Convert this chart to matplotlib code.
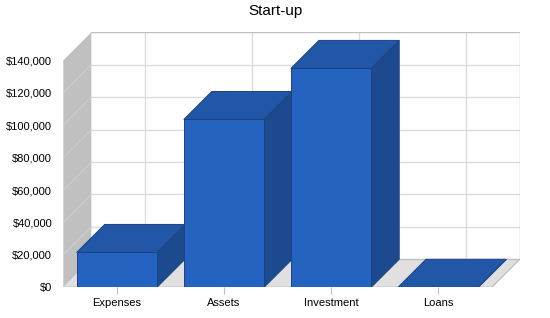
import matplotlib.pyplot as plt
from matplotlib.patches import Polygon
from matplotlib.ticker import FuncFormatter

plt.rcParams['font.family'] = ['Liberation Sans', 'DejaVu Sans']

categories = ['Expenses', 'Assets', 'Investment', 'Loans']
values = [21500, 103500, 135000, 0]
yticks = [0, 20000, 40000, 60000, 80000, 100000, 120000, 140000]

ymax = 140000
# 3d depth offset, in data units (about 28 px each way)
dx = 28 / 107.1
dy = 28 * ymax / 227
bw = 0.75

front = '#2563c0'
top = '#2256a6'
side = '#1d4a8f'
edge = '#1c4283'

fig = plt.figure(figsize=(5.5, 3.18), dpi=100)
ax = fig.add_axes([63.3 / 550, 30.7 / 318, 456.4 / 550, 255 / 318])
ax.set_xlim(-0.5, 3.5 + dx)
ax.set_ylim(0, ymax + dy)
for s in ax.spines.values():
    s.set_visible(False)

x0, x1 = -0.5, len(categories) - 0.5
# side wall
ax.add_patch(Polygon([(x0, 0), (x0 + dx, dy), (x0 + dx, ymax + dy), (x0, ymax)],
                     closed=True, fc='#c0c0c0', ec='none', zorder=1))
# floor
ax.add_patch(Polygon([(x0, 0), (x1, 0), (x1 + dx, dy), (x0 + dx, dy)],
                     closed=True, fc='#e0e0e0', ec='none', zorder=1))
# back wall grid
for v in yticks[1:-1]:
    ax.plot([x0 + dx, x1 + dx], [v + dy, v + dy], color='#dcdcdc', lw=1, zorder=2)
    ax.plot([x0, x0 + dx], [v, v + dy], color='#cdcdcd', lw=0.8, zorder=2)
for i in range(len(categories)):
    ax.plot([i + dx, i + dx], [dy, ymax + dy], color='#dcdcdc', lw=1, zorder=2)
# back wall outline
ax.plot([x0 + dx, x1 + dx, x1 + dx, x0 + dx],
        [ymax + dy, ymax + dy, dy, dy], color='#c0c0c0', lw=1, zorder=2)
ax.plot([x0, x1, x1 + dx], [0, 0, dy], color='#c0c0c0', lw=1, zorder=2)

# bars
for i, v in enumerate(values):
    l, r = i - bw / 2, i + bw / 2
    ax.add_patch(Polygon([(r, 0), (r + dx, dy), (r + dx, v + dy), (r, v)],
                         closed=True, fc=side, ec=edge, lw=0.7, zorder=3 + i))
    ax.add_patch(Polygon([(l, v), (r, v), (r + dx, v + dy), (l + dx, v + dy)],
                         closed=True, fc=top, ec=edge, lw=0.7, zorder=3 + i))
    if v > 0:
        ax.add_patch(Polygon([(l, 0), (r, 0), (r, v), (l, v)],
                             closed=True, fc=front, ec=edge, lw=0.7, zorder=3 + i))

ax.set_xticks(range(len(categories)))
ax.set_xticklabels(categories, fontsize=8)
ax.tick_params(axis='x', length=5, color='#c0c0c0', pad=3)
ax.set_yticks(yticks)
ax.yaxis.set_major_formatter(FuncFormatter(lambda v, p: '${:,.0f}'.format(v)))
ax.tick_params(axis='y', length=0, labelsize=8, pad=8)

fig.text(0.5, 1 - 11.5 / 318, 'Start-up', ha='center', va='center', fontsize=11)

fig.savefig('out.png', dpi=100)
